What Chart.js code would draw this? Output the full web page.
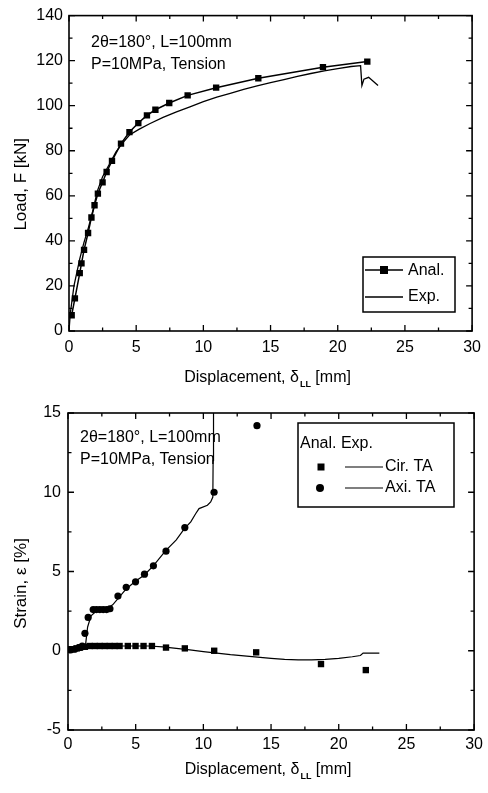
<!DOCTYPE html>
<html>
<head>
  <title>Load and strain vs displacement</title>
  <script src="https://cdn.jsdelivr.net/npm/chart.js@4.4.1/dist/chart.umd.min.js"></script>
  <style>
    body { margin: 0; background: #fff; }
    canvas { display: block; }
  </style>
</head>
<body>
  <canvas id="loadChart" width="488" height="390"></canvas>
  <canvas id="strainChart" width="488" height="403"></canvas>

  <script>
    // load - displacement
    var analDisp = [0.2, 0.44, 0.8, 0.93, 1.12, 1.42, 1.67, 1.9, 2.15, 2.5, 2.8, 3.2, 3.87, 4.5, 5.16, 5.8, 6.43, 7.46, 8.83, 10.95, 14.09, 18.9, 22.2];
    var analLoad = [7, 14.5, 25.7, 30, 36, 43.5, 50.4, 55.8, 61, 66, 70.6, 75.5, 83.2, 88.3, 92.3, 95.7, 98.2, 101.2, 104.6, 108, 112.2, 117.1, 119.6];
    var expDisp = [0, 0.1, 0.37, 0.55, 0.8, 1.1, 1.45, 1.8, 2.1, 2.5, 3, 3.5, 4, 4.5, 5.2, 6, 7, 8, 9, 10, 11, 12, 13, 14, 15, 16, 17, 18, 19, 20, 21, 21.7, 21.8, 21.95, 22.3, 23];
    var expLoad = [0, 8, 20, 25, 32, 39, 46, 54, 62, 68.5, 74, 79.5, 83.5, 87, 89.5, 92, 94.8, 97.3, 99.5, 101.8, 103.8, 105.5, 107.2, 108.8, 110.2, 111.6, 113, 114.3, 115.5, 116.5, 117.4, 117.8, 109, 111.8, 112.6, 109];

    // strain - displacement
    var cirDisp = [0.15, 0.39, 0.64, 0.88, 1.25, 1.61, 1.98, 2.35, 2.71, 3.08, 3.45, 3.81, 4.42, 4.99, 5.58, 6.2, 7.24, 8.63, 10.8, 13.9, 18.69, 22];
    var cirStrain = [0.1, 0.1, 0.15, 0.2, 0.25, 0.3, 0.3, 0.3, 0.3, 0.3, 0.3, 0.3, 0.3, 0.3, 0.3, 0.3, 0.2, 0.15, 0, -0.1, -0.84, -1.22];
    var cirExpDisp = [0, 0.5, 1, 1.5, 2, 3, 4, 5, 6, 7, 8, 9, 10, 11, 12, 13, 14, 15, 16, 17, 18, 19, 20, 21, 21.6, 21.8, 23];
    var cirExpStrain = [0, 0, 0.05, 0.15, 0.2, 0.3, 0.3, 0.3, 0.3, 0.25, 0.15, 0.05, -0.05, -0.15, -0.25, -0.32, -0.4, -0.48, -0.55, -0.58, -0.58, -0.55, -0.48, -0.38, -0.3, -0.15, -0.15];
    var axiDisp = [0.2, 0.5, 0.8, 1.05, 1.25, 1.49, 1.86, 2.1, 2.35, 2.6, 2.85, 3.1, 3.69, 4.3, 4.99, 5.65, 6.31, 7.24, 8.63, 10.79, 13.96];
    var axiStrain = [0.05, 0.1, 0.2, 0.3, 1.1, 2.1, 2.6, 2.6, 2.6, 2.6, 2.6, 2.65, 3.45, 4.0, 4.35, 4.83, 5.36, 6.28, 7.77, 10.0, 14.2];
    var axiExpDisp = [0, 0.5, 1.0, 1.3, 1.45, 1.7, 2.1, 2.8, 3.3, 3.8, 4.3, 5, 5.6, 6.3, 7.2, 8, 8.6, 9.07, 9.44, 9.68, 10.3, 10.54, 10.7, 10.72, 10.75];
    var axiExpStrain = [0, 0, 0.05, 0.4, 1.5, 2.2, 2.5, 2.6, 2.9, 3.4, 3.9, 4.4, 4.75, 5.35, 6.3, 7, 7.7, 8.13, 8.66, 8.97, 9.18, 9.39, 9.7, 12, 15];

    var FONT = "'Liberation Sans', Arial, Helvetica, sans-serif";
    Chart.defaults.color = '#000';
    Chart.defaults.font.family = FONT;
    Chart.defaults.font.size = 16;

    function xy(xs, ys) {
      return xs.map(function (x, i) { return { x: x, y: ys[i] }; });
    }

    // frame, inward ticks, axis titles and the text boxes
    var decoPlugin = {
      id: 'deco',
      afterDraw: function (chart, args, o) {
        var ctx = chart.ctx, a = chart.chartArea;
        var xs = chart.scales.x, ys = chart.scales.y;
        ctx.save();
        ctx.strokeStyle = '#000';
        ctx.lineWidth = 1.6;
        ctx.strokeRect(a.left, a.top, a.right - a.left, a.bottom - a.top);

        ctx.lineWidth = 1.3;
        ctx.beginPath();
        var n, v, len, px;
        for (n = 0; xs.min + n * o.xMinor <= xs.max + 1e-9; n++) {
          v = xs.min + n * o.xMinor;
          len = n % 2 === 0 ? 6 : 3.5;
          px = xs.getPixelForValue(v);
          ctx.moveTo(px, a.bottom); ctx.lineTo(px, a.bottom - len);
          ctx.moveTo(px, a.top); ctx.lineTo(px, a.top + len);
        }
        for (n = 0; ys.min + n * o.yMinor <= ys.max + 1e-9; n++) {
          v = ys.min + n * o.yMinor;
          len = n % 2 === 0 ? 6 : 3.5;
          px = ys.getPixelForValue(v);
          ctx.moveTo(a.left, px); ctx.lineTo(a.left + len, px);
          ctx.moveTo(a.right, px); ctx.lineTo(a.right - len, px);
        }
        ctx.stroke();

        // x title with subscript
        ctx.fillStyle = '#000';
        ctx.textBaseline = 'middle';
        ctx.textAlign = 'left';
        var t1 = 'Displacement, \u03b4', t2 = ' [mm]';
        ctx.font = '16px ' + FONT;
        var w1 = ctx.measureText(t1).width;
        ctx.font = '9px ' + FONT;
        var ws = ctx.measureText('LL').width + 2;
        ctx.font = '16px ' + FONT;
        var w2 = ctx.measureText(t2).width;
        var x0 = (a.left + a.right) / 2 - (w1 + ws + w2) / 2 - 3;
        var ty = a.bottom + o.xTitleGap;
        ctx.fillText(t1, x0, ty);
        ctx.font = 'bold 9px ' + FONT;
        ctx.fillText('LL', x0 + w1 + 1, ty + 7);
        ctx.font = '16px ' + FONT;
        ctx.fillText(t2, x0 + w1 + ws, ty);

        // y title
        ctx.save();
        ctx.translate(21, (a.top + a.bottom) / 2 + o.yTitleShift);
        ctx.rotate(-Math.PI / 2);
        ctx.textAlign = 'center';
        ctx.font = '17px ' + FONT;
        ctx.fillText(o.yTitle, 0, 0);
        ctx.restore();

        // condition text
        ctx.font = '16px ' + FONT;
        ctx.textAlign = 'left';
        ctx.fillText('2\u03b8=180\u00b0, L=100mm', o.note[0], o.note[1]);
        ctx.fillText('P=10MPa, Tension', o.note[0], o.note[1] + 22);

        o.legend(ctx);
        ctx.restore();
      }
    };

    function square(ctx, x, y, s) {
      ctx.fillRect(x - s / 2, y - s / 2, s, s);
    }

    function baseOptions(xw, yr, yStep, xPad, yPad, bottomH) {
      return {
        responsive: false,
        animation: false,
        layout: { padding: { top: 0, right: 10, left: 0, bottom: 0 } },
        scales: {
          x: {
            type: 'linear', min: 0, max: 30,
            ticks: { stepSize: 5, padding: xPad, color: '#000' },
            grid: { display: false, drawTicks: false },
            border: { display: false },
            afterFit: function (s) { s.height = bottomH; }
          },
          y: {
            type: 'linear', min: yr[0], max: yr[1],
            ticks: { stepSize: yStep, padding: yPad, color: '#000' },
            grid: { display: false, drawTicks: false },
            border: { display: false },
            afterFit: function (s) { s.width = xw; }
          }
        }
      };
    }

    var opt1 = baseOptions(69, [0, 140], 20, 7, 6, 390 - 331);
    opt1.layout.padding.top = 15;
    opt1.plugins = {
      legend: { display: false },
      tooltip: { enabled: false },
      deco: {
        xMinor: 2.5, yMinor: 10, xTitleGap: 47, yTitle: 'Load, F [kN]', yTitleShift: 11,
        note: [91, 43],
        legend: function (ctx) {
          ctx.lineWidth = 1.5;
          ctx.strokeRect(363, 257, 92, 55);
          ctx.beginPath();
          ctx.moveTo(365, 270); ctx.lineTo(403, 270);
          ctx.moveTo(365, 297); ctx.lineTo(403, 297);
          ctx.lineWidth = 1.4;
          ctx.stroke();
          square(ctx, 384, 270, 8);
          ctx.fillText('Anal.', 408, 271);
          ctx.fillText('Exp.', 408, 297);
        }
      }
    };

    new Chart(document.getElementById('loadChart'), {
      type: 'scatter',
      data: {
        datasets: [{
          label: 'Anal.',
          data: xy(analDisp, analLoad),
          showLine: true,
          borderColor: '#000',
          backgroundColor: '#000',
          borderWidth: 1.5,
          pointStyle: 'rect',
          pointRadius: 4.5,
          pointBorderWidth: 0
        }, {
          label: 'Exp.',
          data: xy(expDisp, expLoad),
          showLine: true,
          borderColor: '#000',
          borderWidth: 1.3,
          pointRadius: 0
        }]
      },
      options: opt1,
      plugins: [decoPlugin]
    });

    var opt2 = baseOptions(68, [-5, 15], 5, 5, 7, 403 - 340);
    opt2.layout.padding.top = 23;
    opt2.layout.padding.right = 11;
    opt2.plugins = {
      legend: { display: false },
      tooltip: { enabled: false },
      deco: {
        xMinor: 2.5, yMinor: 2.5, xTitleGap: 40, yTitle: 'Strain, \u03b5 [%]', yTitleShift: 12,
        note: [80, 48],
        legend: function (ctx) {
          ctx.lineWidth = 1.5;
          ctx.strokeRect(298, 33, 156, 84);
          ctx.fillText('Anal. Exp.', 300, 54);
          square(ctx, 321, 77, 7);
          ctx.beginPath();
          ctx.arc(320, 98, 4, 0, Math.PI * 2);
          ctx.fill();
          ctx.beginPath();
          ctx.moveTo(345, 77); ctx.lineTo(383, 77);
          ctx.moveTo(345, 98); ctx.lineTo(383, 98);
          ctx.lineWidth = 1.2;
          ctx.stroke();
          ctx.fillText('Cir. TA', 385, 77);
          ctx.fillText('Axi. TA', 385, 98);
        }
      }
    };

    new Chart(document.getElementById('strainChart'), {
      type: 'scatter',
      data: {
        datasets: [{
          label: 'Cir. TA (Anal.)',
          data: xy(cirDisp, cirStrain),
          backgroundColor: '#000',
          pointStyle: 'rect',
          pointRadius: 4.5,
          pointBorderWidth: 0
        }, {
          label: 'Cir. TA (Exp.)',
          data: xy(cirExpDisp, cirExpStrain),
          showLine: true,
          borderColor: '#000',
          borderWidth: 1.2,
          pointRadius: 0
        }, {
          label: 'Axi. TA (Anal.)',
          data: xy(axiDisp, axiStrain),
          backgroundColor: '#000',
          pointStyle: 'circle',
          pointRadius: 3.6,
          pointBorderWidth: 0
        }, {
          label: 'Axi. TA (Exp.)',
          data: xy(axiExpDisp, axiExpStrain),
          showLine: true,
          borderColor: '#000',
          borderWidth: 1.2,
          pointRadius: 0
        }]
      },
      options: opt2,
      plugins: [decoPlugin]
    });
  </script>
</body>
</html>
